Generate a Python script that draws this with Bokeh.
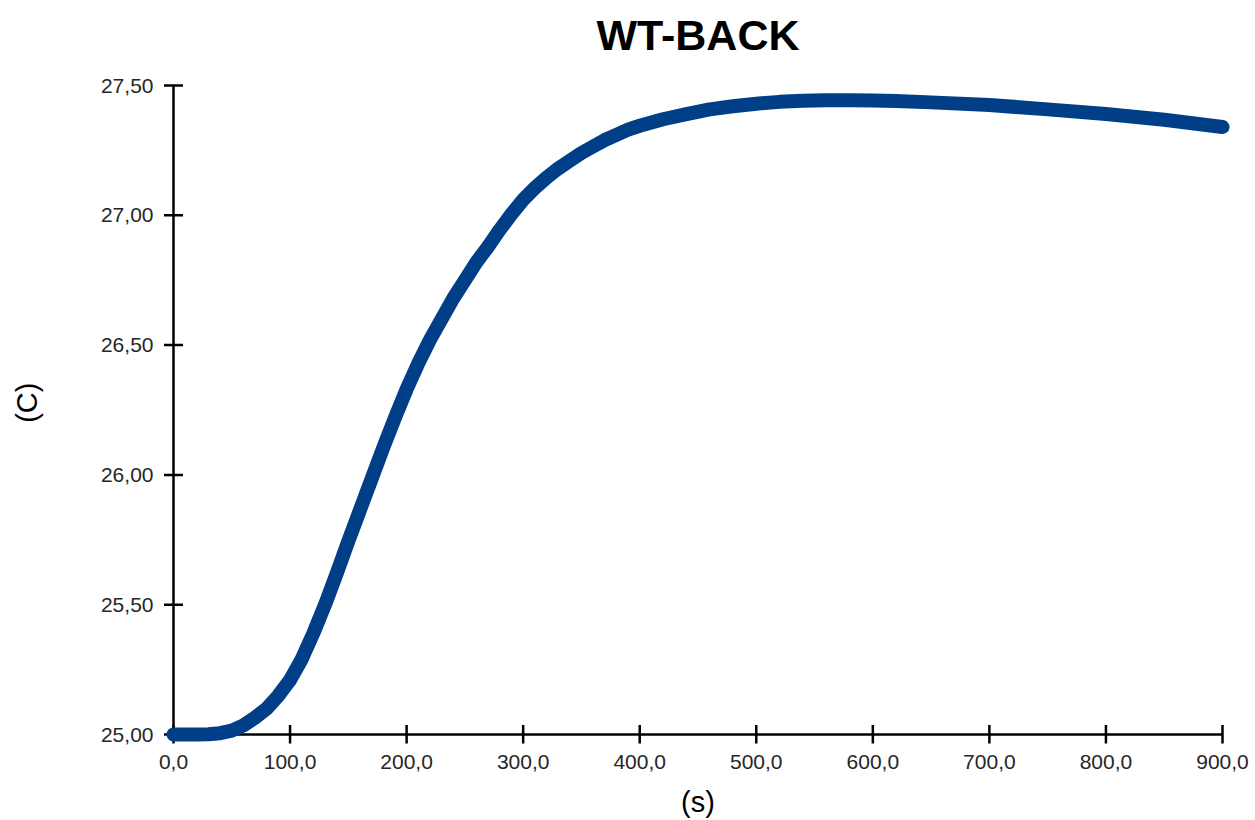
import math
from bokeh.plotting import figure
from bokeh.models import Range1d, FixedTicker, CustomJSTickFormatter
from bokeh.core.properties import value
from bokeh.embed import file_html
from bokeh.resources import INLINE

# ---- data ----
time_s = [0, 10, 20, 30, 40, 50, 60, 70, 80, 90,
          100, 110, 120, 130, 140, 150, 160, 170, 180, 190,
          200, 210, 220, 230, 240, 250, 260, 270, 280, 290,
          300, 310, 320, 330, 340, 350, 360, 370, 380, 390,
          400, 420, 440, 460, 480, 500, 520, 540, 560, 580,
          600, 620, 650, 700, 750, 800, 850, 900]
temp_c = [25.000, 25.000, 25.000, 25.001, 25.005, 25.015, 25.035, 25.065, 25.100, 25.150,
          25.210, 25.290, 25.390, 25.500, 25.620, 25.745, 25.865, 25.985, 26.105, 26.220,
          26.330, 26.430, 26.520, 26.600, 26.680, 26.750, 26.820, 26.880, 26.945, 27.005,
          27.060, 27.105, 27.145, 27.180, 27.210, 27.240, 27.265, 27.290, 27.310, 27.330,
          27.345, 27.370, 27.390, 27.408, 27.420, 27.430, 27.437, 27.441, 27.443, 27.443,
          27.442, 27.440, 27.435, 27.425, 27.408, 27.390, 27.368, 27.340]
x_ticks = [0, 100, 200, 300, 400, 500, 600, 700, 800, 900]
y_ticks = [25.0, 25.5, 26.0, 26.5, 27.0, 27.5]
title_text = "WT-BACK"
x_label = "(s)"
y_label = "(C)"

FONT = "Liberation Sans"
LINE_COLOR = "#003F87"
AXIS_W = 2.5

# layout in pixels: axis 0..900 spans 1049 px, 25..27.5 spans 649 px
PX_X = 1049 / 900
PX_Y = 649 / 2.5
xpad = 10 / PX_X
ypad_top = 80 / PX_Y     # frame reaches up to the title area
ypad_bot = 9 / PX_Y

p = figure(width=1255, height=820, output_backend="svg", toolbar_location=None,
           x_range=Range1d(x_ticks[0] - xpad, x_ticks[-1] + xpad),
           y_range=Range1d(y_ticks[0] - ypad_bot, y_ticks[-1] + ypad_top),
           min_border_left=163, min_border_right=23,
           min_border_top=5, min_border_bottom=77)

p.outline_line_color = None
p.grid.visible = False
p.background_fill_color = "white"
p.border_fill_color = "white"

# Bokeh axes supply only the tick labels and axis titles
for ax, ticks, fmt in (
        (p.xaxis[0], x_ticks, "return tick.toFixed(1).replace('.', ',');"),
        (p.yaxis[0], y_ticks, "return tick.toFixed(2).replace('.', ',');")):
    ax.ticker = FixedTicker(ticks=ticks)
    ax.formatter = CustomJSTickFormatter(code=fmt)
    ax.bounds = (ticks[0], ticks[-1])
    ax.axis_line_color = None
    ax.major_tick_line_color = None
    ax.major_tick_in = 0
    ax.major_tick_out = 0
    ax.minor_tick_line_color = None
    ax.major_label_text_font = FONT
    ax.major_label_text_font_size = "21px"
    ax.major_label_text_color = "#262626"
    ax.axis_label_text_font = FONT
    ax.axis_label_text_font_size = "29px"
    ax.axis_label_text_font_style = "normal"
    ax.axis_label_text_color = "black"

p.xaxis[0].axis_label = x_label
p.xaxis[0].major_label_standoff = 11
p.xaxis[0].axis_label_standoff = 14
# trailing no-break spaces centre the visible "(C)" on the axis line span
p.yaxis[0].axis_label = y_label + "\u00a0" * 7
p.yaxis[0].major_label_standoff = 10
p.yaxis[0].axis_label_standoff = 55

# axis lines crossing at (0, 25) and tick marks crossing the lines
p.segment(x0=[x_ticks[0], x_ticks[0]], y0=[y_ticks[0], y_ticks[0]],
          x1=[x_ticks[-1], x_ticks[0]], y1=[y_ticks[0], y_ticks[-1]],
          line_color="black", line_width=AXIS_W)
p.scatter(x=x_ticks, y=[y_ticks[0]] * len(x_ticks), marker="dash", size=19,
          angle=math.pi / 2, line_color="black", line_width=AXIS_W)
p.scatter(x=[x_ticks[0]] * len(y_ticks), y=y_ticks, marker="dash", size=19,
          line_color="black", line_width=AXIS_W)

p.line(time_s, temp_c, line_color=LINE_COLOR, line_width=14,
       line_cap="round", line_join="round")

# chart title, centred over the plot area
p.text(x=[(x_ticks[0] + x_ticks[-1]) / 2], y=[y_ticks[-1] + 51 / PX_Y],
       text=[title_text], text_font=value(FONT), text_font_size="43px",
       text_font_style="bold", text_color="black",
       text_align="center", text_baseline="middle")

open("out.html", "w").write(file_html(p, INLINE))
